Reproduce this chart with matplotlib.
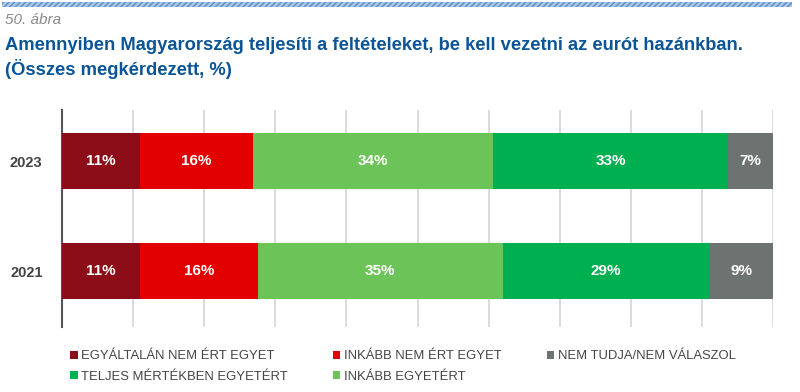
import matplotlib.pyplot as plt
from matplotlib.patches import Rectangle
import numpy as np

# data
years = ["2021", "2023"]
categories = [
    "EGYÁLTALÁN NEM ÉRT EGYET",
    "INKÁBB NEM ÉRT EGYET",
    "INKÁBB EGYETÉRT",
    "TELJES MÉRTÉKBEN EGYETÉRT",
    "NEM TUDJA/NEM VÁLASZOL",
]
values_2021 = [11.0, 16.5, 34.5, 29.0, 9.0]
values_2023 = [11.0, 15.8, 33.8, 33.1, 6.3]
labels_2021 = ["11%", "16%", "35%", "29%", "9%"]
labels_2023 = ["11%", "16%", "34%", "33%", "7%"]
colors = ["#8c0d18", "#e30000", "#6cc358", "#00af50", "#6d7370"]

plt.rcParams["font.family"] = ["Liberation Sans", "DejaVu Sans"]

fig = plt.figure(figsize=(8, 3.92), dpi=100)
ax = fig.add_axes([0.0775, 0.166, 0.8888, 0.553])

vals = np.array([values_2021, values_2023])
labs = [labels_2021, labels_2023]
ypos = np.arange(len(years))
left = np.zeros(len(years))
handles = []
for i, cat in enumerate(categories):
    b = ax.barh(ypos, vals[:, i], left=left, height=0.51, color=colors[i],
                label=cat, zorder=3)
    handles.append(b)
    for j in range(len(years)):
        ax.text(left[j] + vals[j, i] / 2, ypos[j], labs[j][i], ha="center",
                va="center", color="white", fontsize=11, fontweight="bold",
                zorder=4)
    left += vals[:, i]

ax.set_xlim(0, 100)
ax.set_ylim(-0.509, 1.464)
ax.set_xticks(np.arange(0, 101, 10))
ax.xaxis.grid(True, color="#d4d4d4", linewidth=1.2, zorder=0)
ax.tick_params(axis="x", length=0, labelbottom=False)
ax.tick_params(axis="y", length=0, pad=14)
ax.set_yticks(ypos)
ax.set_yticklabels(years, fontsize=10.5, color="#444444", fontweight="bold")
for s in ["top", "right", "bottom"]:
    ax.spines[s].set_visible(False)
ax.spines["left"].set_color("#555555")
ax.spines["left"].set_linewidth(1.5)

# legend in three columns: [A, D], [B, C], [E]
columns = [([0, 3], 0.088), ([1, 2], 0.416), ([4], 0.684)]
for idx, x0 in columns:
    leg = fig.legend([handles[k] for k in idx], [categories[k] for k in idx],
                     ncol=1, loc="upper left", bbox_to_anchor=(x0, 0.106),
                     frameon=False, fontsize=9.4, handlelength=0.55,
                     handleheight=0.6, handletextpad=0.3, labelspacing=0.62,
                     borderpad=0, borderaxespad=0)
    for t in leg.get_texts():
        t.set_color("#444444")

# header
fig.patches.append(Rectangle((0.003, 0.982), 0.987, 0.013, transform=fig.transFigure,
                             facecolor="#a9c6e6", edgecolor="#5b8fc9", hatch="//////",
                             linewidth=0))
fig.text(0.006, 0.948, "50. ábra", fontsize=11, style="italic", color="#8a8a8a",
         va="center")
fig.text(0.006, 0.885, "Amennyiben Magyarország teljesíti a feltételeket, be kell vezetni az eurót hazánkban.",
         fontsize=13.2, fontweight="bold", color="#0b5597", va="center")
fig.text(0.006, 0.825, "(Összes megkérdezett, %)",
         fontsize=13.2, fontweight="bold", color="#0b5597", va="center")

fig.savefig("out.png", dpi=100)
